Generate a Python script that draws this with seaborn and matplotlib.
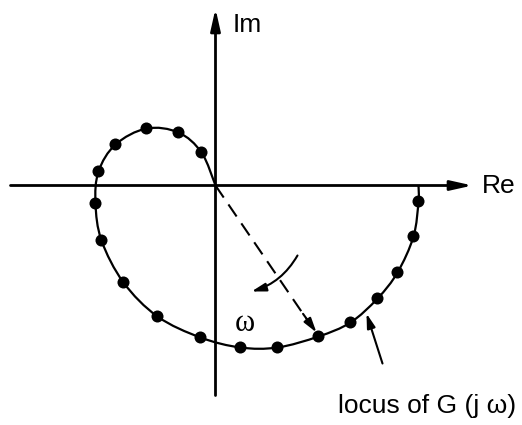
import numpy as np
import pandas as pd
import seaborn as sns
import matplotlib.pyplot as plt
from matplotlib.path import Path
from matplotlib.patches import PathPatch

re_pts = [2.03, 1.98, 1.82, 1.62, 1.35, 1.03, 0.62, 0.25, -0.15, -0.58,
          -0.92, -1.14, -1.20, -1.17, -1.00, -0.69, -0.37, -0.14]
im_pts = [-0.16, -0.51, -0.87, -1.13, -1.37, -1.51, -1.62, -1.62, -1.52, -1.31,
          -0.97, -0.55, -0.18, 0.14, 0.41, 0.57, 0.53, 0.33]

# the curve starts on the real axis and ends in the origin
re_start, im_start = 2.03, 0.0
re_end, im_end = 0.0, 0.0

# the point the radius vector points at
vec_idx = 5

sns.set_theme(style="white")
plt.rcParams['font.family'] = ['Liberation Sans', 'DejaVu Sans']
plt.rcParams['text.color'] = 'black'

pts = pd.DataFrame({"Re": re_pts, "Im": im_pts})
curve = pd.DataFrame({"Re": [re_start] + re_pts + [re_end],
                      "Im": [im_start] + im_pts + [im_end]})


def smooth_path(xs, ys):
    """Catmull-Rom through the given points, drawn as cubic bezier pieces."""
    p = np.column_stack([xs, ys])
    p = np.vstack([p[0], p, p[-1]])
    verts = [p[1]]
    codes = [Path.MOVETO]
    for i in range(1, len(p) - 2):
        c1 = p[i] + (p[i + 1] - p[i - 1]) / 6
        c2 = p[i + 1] - (p[i + 2] - p[i]) / 6
        verts += [c1, c2, p[i + 1]]
        codes += [Path.CURVE4] * 3
    return Path(verts, codes)


fig = plt.figure(figsize=(5.22, 4.25), dpi=100)
ax = fig.add_axes([0, 0, 1, 1])
ax.set_xlim(-2.155, 3.065)
ax.set_ylim(-2.395, 1.855)
ax.axis("off")

big_head = dict(arrowstyle="-|>,head_length=1.3,head_width=0.29", color="black",
                lw=2, shrinkA=0, shrinkB=0, mutation_scale=10)
small_head = dict(arrowstyle="-|>,head_length=0.86,head_width=0.25", color="black",
                  lw=1.5, shrinkA=0, shrinkB=0, mutation_scale=10)

# axes with arrows
ax.annotate("", xy=(2.57, 0), xytext=(-2.05, 0), arrowprops=big_head)
ax.annotate("", xy=(0, 1.77), xytext=(0, -2.10), arrowprops=big_head)
ax.text(2.66, 0.0, "Re", fontsize=19, va="center", ha="left")
ax.text(0.17, 1.60, "Im", fontsize=19, va="center", ha="left")

# locus
ax.add_patch(PathPatch(smooth_path(curve["Re"], curve["Im"]), fill=False,
                       edgecolor="black", lw=1.6))
sns.scatterplot(data=pts, x="Re", y="Im", color="black", s=75, edgecolor="none",
                ax=ax, zorder=5)

# dashed radius vector
xv, yv = re_pts[vec_idx], im_pts[vec_idx]
ax.plot([0, xv * 0.9], [0, yv * 0.9], color="black", lw=1.5, ls=(0, (7, 4)))
ax.annotate("", xy=(xv - 0.02, yv + 0.04), xytext=(xv * 0.85, yv * 0.85),
            arrowprops=small_head)

# curved arrow showing increasing omega
ax.annotate("", xy=(0.36, -1.06), xytext=(0.82, -0.70),
            arrowprops=dict(small_head, connectionstyle="arc3,rad=-0.2"))
ax.text(0.29, -1.38, "ω", fontsize=22, family="Liberation Serif",
        ha="center", va="center")

# label
ax.annotate("", xy=(1.51, -1.28), xytext=(1.67, -1.78), arrowprops=small_head)
ax.text(1.22, -2.20, "locus of G (j ω)", fontsize=19, ha="left", va="center")

fig.savefig("out.png", dpi=100)
